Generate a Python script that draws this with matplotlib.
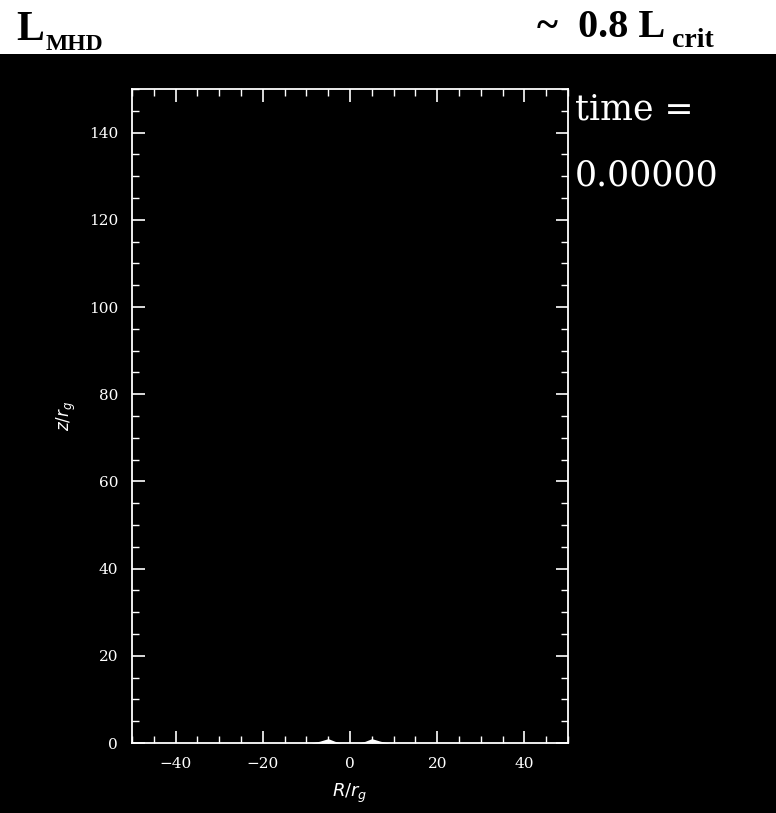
import numpy as np
import matplotlib.pyplot as plt
from matplotlib.patches import Rectangle
from matplotlib.ticker import MultipleLocator

# axis ranges and ticks read from the frame
x_range = [-50, 50]
y_range = [0, 150]
x_major = [-40, -20, 0, 20, 40]
y_major = [0, 20, 40, 60, 80, 100, 120, 140]

# faint material near the base (two little bumps around R = +-5)
bump_left_x = [-9, -7, -5, -3.5, -2]
bump_left_y = [0, 0.4, 1.0, 0.4, 0]
bump_right_x = [2, 3.5, 5, 7, 9]
bump_right_y = [0, 0.4, 1.0, 0.4, 0]

time_value = 0.0

W, H = 776, 813
fig = plt.figure(figsize=(W / 100, H / 100), dpi=100)
fig.patch.set_facecolor('white')

# black panel below the header strip
fig.patches.append(Rectangle((0, 0), 1, (H - 54) / H, transform=fig.transFigure,
                             facecolor='black', edgecolor='none', zorder=-5))

ax = fig.add_axes([132 / W, (H - 743) / H, 436 / W, 654 / H])
ax.set_zorder(2)
ax.set_facecolor('black')
ax.fill_between(bump_left_x, bump_left_y, color='white', lw=0)
ax.fill_between(bump_right_x, bump_right_y, color='white', lw=0)

ax.set_xlim(x_range)
ax.set_ylim(y_range)
ax.set_xticks(x_major)
ax.set_yticks(y_major)
ax.xaxis.set_minor_locator(MultipleLocator(5))
ax.yaxis.set_minor_locator(MultipleLocator(5))
ax.set_xticklabels([str(v).replace('-', '\u2212') for v in x_major])

for s in ax.spines.values():
    s.set_color('white')
    s.set_linewidth(1.3)
ax.tick_params(which='both', direction='in', colors='white', top=True, right=True,
               labelsize=11)
ax.tick_params(which='major', length=9, width=1.2, pad=10)
ax.tick_params(which='minor', length=5, width=1.0)
for lab in ax.get_xticklabels() + ax.get_yticklabels():
    lab.set_family('DejaVu Serif')

ax.set_xlabel(r'$R/r_g$', color='white', fontsize=13, labelpad=8)
ax.set_ylabel(r'$z/r_g$', color='white', fontsize=12, labelpad=8)

# time readout to the right of the frame
fig.text(575 / W, 1 - 120 / H, 'time =', color='white', fontsize=25,
         family='DejaVu Serif', ha='left', va='baseline', zorder=3)
fig.text(575 / W, 1 - 185 / H, f'{time_value:.5f}', color='white', fontsize=25,
         family='DejaVu Serif', ha='left', va='baseline', zorder=3)

# header labels
fig.text(16 / W, 1 - 40 / H, 'L', fontsize=30, weight='bold', family='Liberation Serif',
         ha='left', va='baseline')
fig.text(46 / W, 1 - 50 / H, 'MHD', fontsize=17, weight='bold', family='Liberation Serif',
         ha='left', va='baseline')
fig.text(537 / W, 1 - 37 / H, '~  0.8 L', fontsize=29, weight='bold', family='Liberation Serif',
         ha='left', va='baseline')
fig.text(672 / W, 1 - 47 / H, 'crit', fontsize=20, weight='bold', family='Liberation Serif',
         ha='left', va='baseline')

fig.savefig('out.png', dpi=100, facecolor=fig.get_facecolor())
